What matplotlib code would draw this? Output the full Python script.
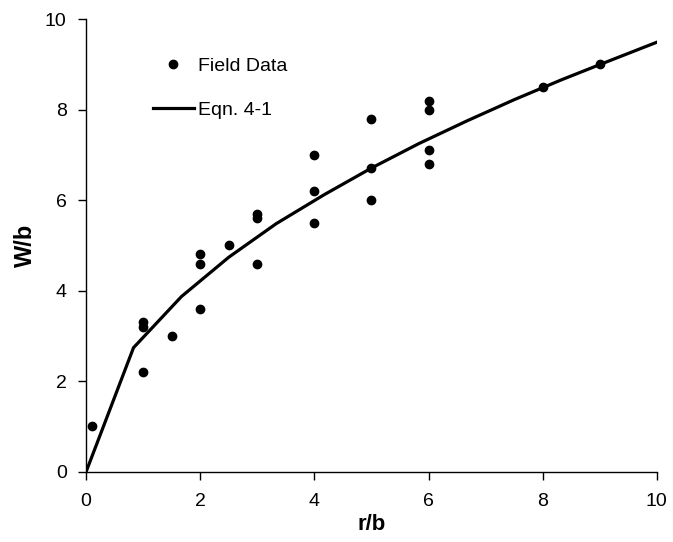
import matplotlib.pyplot as plt

plt.rcParams['font.family'] = ['Liberation Sans', 'DejaVu Sans']

# Field data (r/b, W/b)
field_x = [0.1, 1, 1, 1, 1.5, 2, 2, 2, 2.5, 3, 3, 3, 4, 4, 4, 5, 5, 5, 6, 6, 6, 6, 8, 9]
field_y = [1.0, 3.3, 3.2, 2.2, 3.0, 4.8, 4.6, 3.6, 5.0, 5.7, 5.6, 4.6, 7.0, 6.2, 5.5,
           7.8, 6.7, 6.0, 8.2, 8.0, 7.1, 6.8, 8.5, 9.0]

# Eqn. 4-1 curve
eqn_x = [0, 0.83, 1.67, 2.5, 3.33, 4.17, 5.0, 5.83, 6.67, 7.5, 8.33, 9.17, 10.0]
eqn_y = [0, 2.74, 3.87, 4.74, 5.48, 6.12, 6.71, 7.25, 7.75, 8.22, 8.66, 9.08, 9.49]

ticks = [0, 2, 4, 6, 8, 10]

fig = plt.figure(figsize=(6.73, 5.42), dpi=100)
ax = fig.add_axes([0.128, 0.1297, 0.848, 0.835])

ax.plot(field_x, field_y, 'o', color='black', markersize=6, label='Field Data')
ax.plot(eqn_x, eqn_y, '-', color='black', linewidth=2.3, label='Eqn. 4-1')

ax.set_xlim(0, 10)
ax.set_ylim(0, 10)
ax.set_xticks(ticks)
ax.set_yticks(ticks)

ax.spines['top'].set_visible(False)
ax.spines['right'].set_visible(False)
ax.spines['left'].set_linewidth(1.0)
ax.spines['bottom'].set_linewidth(1.0)
ax.tick_params(axis='both', direction='out', length=6, width=1, labelsize=14)
ax.tick_params(axis='x', pad=9)
ax.tick_params(axis='y', pad=8)

ax.set_xlabel('r/b', fontsize=16, fontweight='bold', labelpad=3)
ax.set_ylabel('W/b', fontsize=17, fontweight='bold', labelpad=6)

ax.legend(frameon=False, loc='upper left', bbox_to_anchor=(0.117, 0.916),
          borderaxespad=0, borderpad=0, fontsize=14, handlelength=2.1,
          handletextpad=0.2, labelspacing=1.35, numpoints=1)

fig.savefig('out.png', dpi=100)
